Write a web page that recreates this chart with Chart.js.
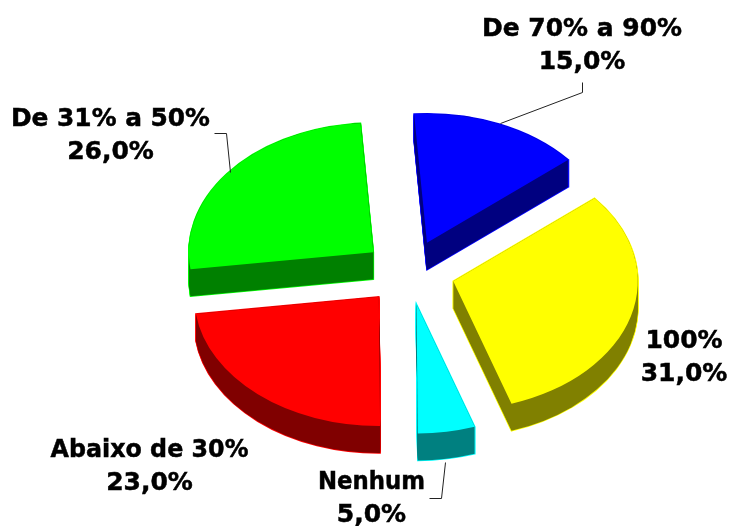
<!DOCTYPE html>
<html>
<head>
<meta charset="utf-8">
<style>
  html, body { margin: 0; padding: 0; background: #fff; }
  #box { width: 729px; height: 526px; }
</style>
<script src="https://cdn.jsdelivr.net/npm/chart.js@4"></script>
</head>
<body>
<div id="box"><canvas id="grafico" width="729" height="526"></canvas></div>
<script>
const categorias = ['De 70% a 90%', '100%', 'Nenhum', 'Abaixo de 30%', 'De 31% a 50%'];
const valores = [15, 31, 5, 23, 26];
const rotulos = ['15,0%', '31,0%', '5,0%', '23,0%', '26,0%'];
const cores = ['#0000ff', '#ffff00', '#00ffff', '#ff0000', '#00ff00'];
const coresLado = ['#000080', '#808000', '#008080', '#800000', '#008000'];

// centre of each label block, width of the first line, and the leader lines
const posRotulos = [[582, 46], [684, 358], [371.5, 499], [149.5, 467], [110.5, 136]];
const largRotulos = [200, 78, 107, 198, 199];
const linhas = [
  [[500, 123], [582, 92], [582, 82]],
  null,
  [[445, 462], [441, 498], [429, 498]],
  null,
  [[230, 172], [226, 133], [214, 133]]
];

const raio = 184.5;
const achatar = 0.7;
const explode = 46;
const altura = 27;

const fonte = 'bold 25px "DejaVu Sans"';

// pizza 3D: the arcs come from Chart.js, squashed and pushed out here
const pizza3d = {
  id: 'pizza3d',
  beforeDatasetsDraw(chart) {
    const ctx = chart.ctx;
    const arcos = chart.getDatasetMeta(0).data;

    arcos.forEach((arco, i) => {
      const p = arco.getProps(['x', 'y', 'startAngle', 'endAngle', 'outerRadius']);
      const meio = (p.startAngle + p.endAngle) / 2;
      const dx = Math.cos(meio) * explode;
      const dy = Math.sin(meio) * explode;

      const fatia = k => {
        ctx.save();
        ctx.translate(p.x, p.y + k);
        ctx.scale(1, achatar);
        ctx.translate(-p.x + dx, -p.y + dy);
        ctx.beginPath();
        ctx.moveTo(p.x, p.y);
        ctx.arc(p.x, p.y, p.outerRadius, p.startAngle, p.endAngle);
        ctx.closePath();
        ctx.restore();
      };

      // contorno claro da lateral, depois a lateral escura por cima
      ctx.strokeStyle = cores[i];
      ctx.lineWidth = 1.5;
      for (let k = altura; k >= 0; k--) {
        fatia(k);
        ctx.stroke();
      }
      ctx.fillStyle = coresLado[i];
      for (let k = altura; k >= 0; k--) {
        fatia(k);
        ctx.fill();
      }

      // topo
      ctx.save();
      ctx.translate(p.x, p.y);
      ctx.scale(1, achatar);
      ctx.translate(-p.x + dx, -p.y + dy);
      arco.draw(ctx);
      ctx.restore();
    });
    return false;
  },
  afterDraw(chart) {
    const ctx = chart.ctx;
    ctx.save();
    ctx.strokeStyle = '#222';
    ctx.lineWidth = 1;
    linhas.forEach(l => {
      if (!l) return;
      ctx.beginPath();
      l.forEach((pt, j) => j ? ctx.lineTo(pt[0] + .5, pt[1] + .5) : ctx.moveTo(pt[0] + .5, pt[1] + .5));
      ctx.stroke();
    });
    ctx.fillStyle = '#000';
    ctx.strokeStyle = '#000';
    ctx.lineWidth = 0.5;
    ctx.font = fonte;
    ctx.textAlign = 'center';
    ctx.textBaseline = 'middle';
    categorias.forEach((c, i) => {
      const [x, y] = posRotulos[i];
      ctx.fillText(c, x, y - 17, largRotulos[i]);
      ctx.strokeText(c, x, y - 17, largRotulos[i]);
      ctx.fillText(rotulos[i], x, y + 16);
      ctx.strokeText(rotulos[i], x, y + 16);
    });
    ctx.restore();
  }
};

new Chart(document.getElementById('grafico'), {
  type: 'pie',
  data: {
    labels: categorias,
    datasets: [{
      data: valores,
      backgroundColor: cores,
      borderWidth: 0
    }]
  },
  options: {
    responsive: false,
    animation: false,
    rotation: -4,
    radius: raio,
    layout: { padding: { left: 89, top: 19 } },
    plugins: { legend: { display: false }, tooltip: { enabled: false } }
  },
  plugins: [pizza3d]
});
</script>
</body>
</html>
